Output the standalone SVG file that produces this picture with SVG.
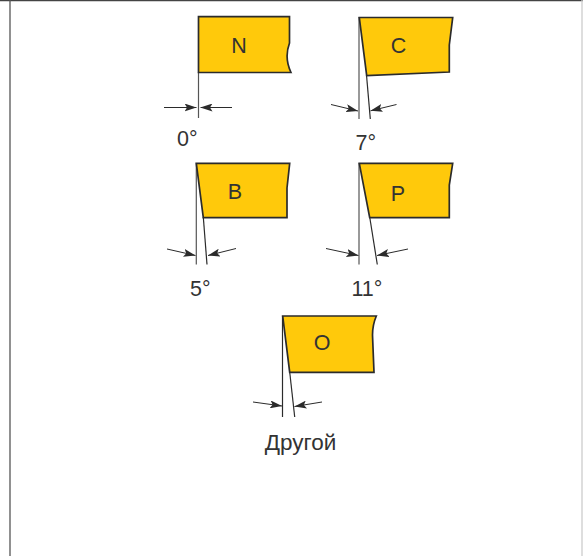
<svg xmlns="http://www.w3.org/2000/svg" width="583" height="556" viewBox="0 0 583 556">
<style>
.ins{fill:#ffc90b;stroke:#2b2b2b;stroke-width:1.7;stroke-linejoin:miter}
.ref{fill:none;stroke:#555;stroke-width:1.2}
.sl{fill:none;stroke:#2b2b2b;stroke-width:1.2}
.arr{fill:none;stroke:#2b2b2b;stroke-width:1;marker-end:url(#a)}
text{font-family:"Liberation Sans",Arial,sans-serif;font-size:21.500px;fill:#333}
.c{text-anchor:middle}
</style>
<defs>
<marker id="a" viewBox="0 0 12 8" refX="12" refY="4" markerWidth="12" markerHeight="8" markerUnits="userSpaceOnUse" orient="auto"><path d="M0 0L12 4L0 8L2.500 4Z" fill="#2b2b2b"/></marker>
</defs>
<rect width="583" height="556" fill="#fff"/>
<g id="frame">
<path d="M0 .5H583" stroke="#444" stroke-width="1.4" fill="none"/>
<path d="M10 0V556" stroke="#555" stroke-width="1.3" fill="none"/>
<path d="M582 0V556" stroke="#ccc" stroke-width="1.3" fill="none"/>
</g>
<g id="connectors">
<path class="ref" d="M198.500 72V118"/>
<path class="arr" d="M164 107.500H196.500"/>
<path class="arr" d="M232 107.500H200.500"/>
<path class="ref" d="M359 17V119"/>
<path class="sl" d="M366.500 75L370.300 119"/>
<path class="arr" d="M331 104.500L358 111"/>
<path class="arr" d="M396.500 104.500L370.500 110.800"/>
<path class="ref" d="M196.300 163V264.500"/>
<path class="sl" d="M203.300 217L207 264.500"/>
<path class="arr" d="M167 249L195.500 255.500"/>
<path class="arr" d="M236 248.500L208 255.500"/>
<path class="ref" d="M359 163V264.500"/>
<path class="sl" d="M369.700 217L377.300 264.500"/>
<path class="arr" d="M326 248.500L358.500 255.500"/>
<path class="arr" d="M408 249L377 255.500"/>
<path class="sl" d="M282.500 316V417"/>
<path class="sl" d="M289.700 372L294.700 417"/>
<path class="arr" d="M253 402L282 406"/>
<path class="arr" d="M322 402L294.500 406.500"/>
</g>
<g id="node-n">
<path class="ins" d="M198.500 16.700H289.500V43Q284 58 291 72.500H198.500Z"/>
<text class="c" x="239" y="52.500">N</text>
<text x="177" y="146">0°</text>
</g>
<g id="node-c">
<path class="ins" d="M359.300 17.500H452.700L449.300 45V72L366.700 75.500Z"/>
<text class="c" x="398.500" y="52.500">C</text>
<text x="355.500" y="150">7°</text>
</g>
<g id="node-b">
<path class="ins" d="M196.300 163.300H289.700L287 188V217.700H203.300Z"/>
<text class="c" x="235" y="199">B</text>
<text x="190" y="295.500">5°</text>
</g>
<g id="node-p">
<path class="ins" d="M359.300 163.300H452.700L449.300 185V217.700H369.700Z"/>
<text class="c" x="398" y="200.500">P</text>
<text x="351.500" y="295.500">11°</text>
</g>
<g id="node-o">
<path class="ins" d="M282.700 316H376.300Q372.500 325 372.500 335L374 372.300H289.700Z"/>
<text class="c" x="322" y="350">O</text>
<text class="c" x="300.500" y="449.500" style="font-size:22.500px">Другой</text>
</g>
</svg>
